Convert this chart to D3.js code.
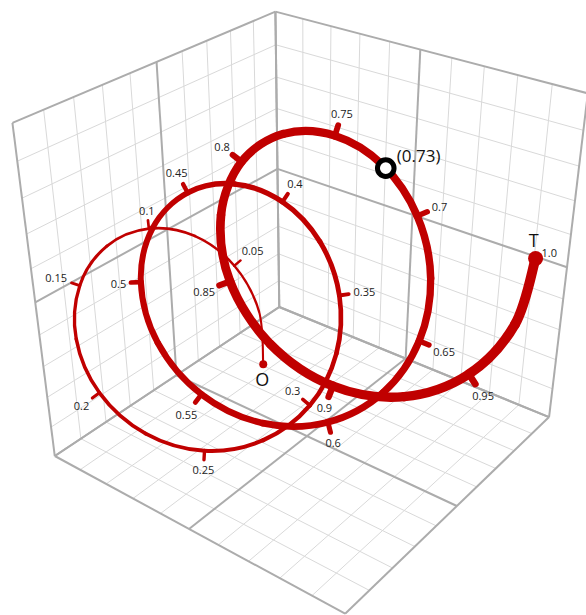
<!DOCTYPE html>
<html>
<head>
<meta charset="utf-8">
<script src="https://cdn.jsdelivr.net/npm/d3@7"></script>
<style>
  body { margin: 0; background: #fff; }
  text { font-family: "Open Sans", sans-serif; }
</style>
</head>
<body>
<div id="chart-area"></div>
<script>
/*
*    helix in a 3D box
*/
var tValues = [0, 0.025, 0.05, 0.075, 0.1, 0.125, 0.15, 0.175, 0.2, 0.225, 0.25, 0.275, 0.3, 0.325,
  0.35, 0.375, 0.4, 0.425, 0.45, 0.475, 0.5, 0.525, 0.55, 0.575, 0.6, 0.625, 0.65, 0.675,
  0.7, 0.725, 0.75, 0.775, 0.8, 0.825, 0.85, 0.875, 0.9, 0.925, 0.95, 0.975, 1];
var xValues = [-0.470, -0.591, -0.752, -0.908, -1.017, -1.045, -0.976, -0.816, -0.591, -0.339, -0.107, 0.064, 0.147, 0.131,
  0.030, -0.125, -0.291, -0.423, -0.482, -0.446, -0.313, -0.103, 0.148, 0.395, 0.593, 0.708, 0.724, 0.647,
  0.503, 0.332, 0.181, 0.093, 0.095, 0.198, 0.387, 0.633, 0.889, 1.110, 1.257, 1.307, 1.258];
var yValues = [-0.189, -0.305, -0.283, -0.129, 0.127, 0.428, 0.710, 0.912, 0.990, 0.928, 0.739, 0.465, 0.166, -0.092,
  -0.251, -0.277, -0.163, 0.068, 0.365, 0.666, 0.904, 1.028, 1.012, 0.860, 0.604, 0.302, 0.019, -0.182,
  -0.255, -0.186, 0.014, 0.300, 0.611, 0.880, 1.050, 1.082, 0.971, 0.741, 0.442, 0.141, -0.096];
var zValues = [-0.803, -0.539, -0.277, -0.066, 0.055, 0.066, -0.027, -0.197, -0.400, -0.584, -0.702, -0.719, -0.626, -0.433,
  -0.177, 0.095, 0.331, 0.487, 0.536, 0.474, 0.323, 0.122, -0.078, -0.225, -0.280, -0.223, -0.059, 0.184,
  0.461, 0.718, 0.907, 0.994, 0.967, 0.839, 0.646, 0.436, 0.263, 0.173, 0.192, 0.324, 0.547];
var tickLabels = ["0.05", "0.1", "0.15", "0.2", "0.25", "0.3", "0.35", "0.4", "0.45", "0.5",
  "0.55", "0.6", "0.65", "0.7", "0.75", "0.8", "0.85", "0.9", "0.95"];
var flippedTicks = ["0.3"];
var endLabel = "1.0";
var startName = "O";
var endName = "T";
var markerLabel = "(0.73)";
var markerPoint = [0.343, -0.195, 0.702];

var width = 586;
var height = 615;
var red = "#c00000";

// camera
var view = { azimuth: 0.9147, elevation: 0.5594, distance: 7.118, focal: 1327.1, targetZ: -0.216, cx: 307.0, cy: 319.1 };
var sa = Math.sin(view.azimuth), ca = Math.cos(view.azimuth);
var se = Math.sin(view.elevation), ce = Math.cos(view.elevation);
var right = [sa, -ca, 0];
var up = [-se * ca, -se * sa, ce];
var toEye = [ce * ca, ce * sa, se];

var xScale = d3.scaleLinear().domain([-1, 1]).range([-1, 1]);
var yScale = d3.scaleLinear().domain([-1, 1]).range([-1, 1]);
var zScale = d3.scaleLinear().domain([-1, 1]).range([-1, 1]);

function dot(a, b) { return a[0] * b[0] + a[1] * b[1] + a[2] * b[2]; }
function project(x, y, z) {
  var p = [xScale(x), yScale(y), zScale(z) - view.targetZ];
  var d = view.distance - dot(p, toEye);
  return [view.cx + view.focal * dot(p, right) / d, view.cy - view.focal * dot(p, up) / d];
}

var svg = d3.select("#chart-area")
  .append("svg")
  .attr("width", width)
  .attr("height", height);

// walls: left (x=-1), back (y=-1), floor (z=-1)
var steps = d3.ticks(-1, 1, 10);
var gridLines = [];
steps.forEach(v => {
  var major = Math.abs(v) < 1e-9 || Math.abs(Math.abs(v) - 1) < 1e-9;
  gridLines.push({ a: [-1, v, -1], b: [-1, v, 1], major: major });
  gridLines.push({ a: [-1, -1, v], b: [-1, 1, v], major: major });
  gridLines.push({ a: [v, -1, -1], b: [v, -1, 1], major: major });
  gridLines.push({ a: [-1, -1, v], b: [1, -1, v], major: major });
  gridLines.push({ a: [v, -1, -1], b: [v, 1, -1], major: major });
  gridLines.push({ a: [-1, v, -1], b: [1, v, -1], major: major });
});
gridLines.sort((p, q) => p.major - q.major);

svg.append("g")
  .selectAll("line")
  .data(gridLines).enter()
  .append("line")
  .attr("x1", d => project(d.a[0], d.a[1], d.a[2])[0])
  .attr("y1", d => project(d.a[0], d.a[1], d.a[2])[1])
  .attr("x2", d => project(d.b[0], d.b[1], d.b[2])[0])
  .attr("y2", d => project(d.b[0], d.b[1], d.b[2])[1])
  .attr("stroke", d => d.major ? "#acacac" : "#d9d9d9")
  .attr("stroke-width", d => d.major ? 2 : 1);

// curve
var points = tValues.map((t, i) => {
  var s = project(xValues[i], yValues[i], zValues[i]);
  return { t: t, x: s[0], y: s[1] };
});
var n = points.length;
function pt(i) { return points[Math.max(0, Math.min(n - 1, i))]; }

var widthScale = d3.scaleLinear().domain([0, 1]).range([2, 10]);

var pieces = d3.range(n - 1).map(i => {
  var p0 = pt(i - 1), p1 = pt(i), p2 = pt(i + 1), p3 = pt(i + 2);
  var path = d3.path();
  path.moveTo(p1.x, p1.y);
  path.bezierCurveTo(p1.x + (p2.x - p0.x) / 6, p1.y + (p2.y - p0.y) / 6,
    p2.x - (p3.x - p1.x) / 6, p2.y - (p3.y - p1.y) / 6, p2.x, p2.y);
  return { d: path.toString(), t: (p1.t + p2.t) / 2 };
});

var g = svg.append("g");
g.selectAll("path.piece")
  .data(pieces).enter()
  .append("path")
  .attr("class", "piece")
  .attr("d", d => d.d)
  .attr("fill", "none")
  .attr("stroke", red)
  .attr("stroke-width", d => widthScale(d.t))
  .attr("stroke-linecap", "round");

// ticks along the curve
function normalAt(i) {
  var a = pt(i - 1), b = pt(i + 1);
  var tx = b.x - a.x, ty = b.y - a.y;
  var len = Math.sqrt(tx * tx + ty * ty);
  return [-ty / len, tx / len];
}

var ticks = tickLabels.map(label => {
  var i = tValues.indexOf(+label);
  var p = points[i];
  var nv = normalAt(i);
  if (flippedTicks.indexOf(label) >= 0) nv = [-nv[0], -nv[1]];
  var lw = widthScale(p.t);
  var len = lw / 2 + 7;
  return { label: label, p: p, n: nv, lw: lw, tip: [p.x + nv[0] * len, p.y + nv[1] * len] };
});

g.selectAll("line.tick")
  .data(ticks).enter()
  .append("line")
  .attr("class", "tick")
  .attr("x1", d => d.p.x)
  .attr("y1", d => d.p.y)
  .attr("x2", d => d.tip[0])
  .attr("y2", d => d.tip[1])
  .attr("stroke", red)
  .attr("stroke-width", d => 1 + 0.6 * d.lw)
  .attr("stroke-linecap", "round");

var labels = svg.append("g")
  .selectAll("text")
  .data(ticks).enter()
  .append("text")
  .attr("font-size", "11px")
  .attr("fill", "#222")
  .attr("text-anchor", "middle")
  .attr("dominant-baseline", "central")
  .text(d => d.label);
labels.each(function(d) {
  var tw = this.getComputedTextLength();
  var off = 4.5 + Math.abs(d.n[0]) * tw / 2 + Math.abs(d.n[1]) * 4.5;
  d3.select(this)
    .attr("x", d.tip[0] + d.n[0] * off)
    .attr("y", d.tip[1] + d.n[1] * off);
});

// start and end
var pStart = points[0];
var pEnd = points[n - 1];
svg.append("circle")
  .attr("cx", pStart.x).attr("cy", pStart.y).attr("r", 4)
  .attr("fill", red);
svg.append("circle")
  .attr("cx", pEnd.x).attr("cy", pEnd.y).attr("r", 7.5)
  .attr("fill", red);

svg.append("text")
  .attr("x", pStart.x - 1).attr("y", pStart.y + 15)
  .attr("font-size", "18px").attr("fill", "#111")
  .attr("text-anchor", "middle").attr("dominant-baseline", "central")
  .text(startName);
svg.append("text")
  .attr("x", pEnd.x - 2).attr("y", pEnd.y - 18)
  .attr("font-size", "18px").attr("fill", "#111")
  .attr("text-anchor", "middle").attr("dominant-baseline", "central")
  .text(endName);

svg.append("text")
  .attr("font-size", "11px").attr("fill", "#222")
  .attr("dominant-baseline", "central")
  .attr("x", pEnd.x + 6)
  .attr("y", pEnd.y - 6)
  .text(endLabel);

// marked point
var m = project(markerPoint[0], markerPoint[1], markerPoint[2]);
svg.append("circle")
  .attr("cx", m[0]).attr("cy", m[1]).attr("r", 8.3)
  .attr("fill", "#fff")
  .attr("stroke", "#000")
  .attr("stroke-width", 5);
svg.append("text")
  .attr("x", m[0] + 11).attr("y", m[1] - 6)
  .attr("font-size", "17px").attr("fill", "#111")
  .text(markerLabel);
</script>
</body>
</html>
